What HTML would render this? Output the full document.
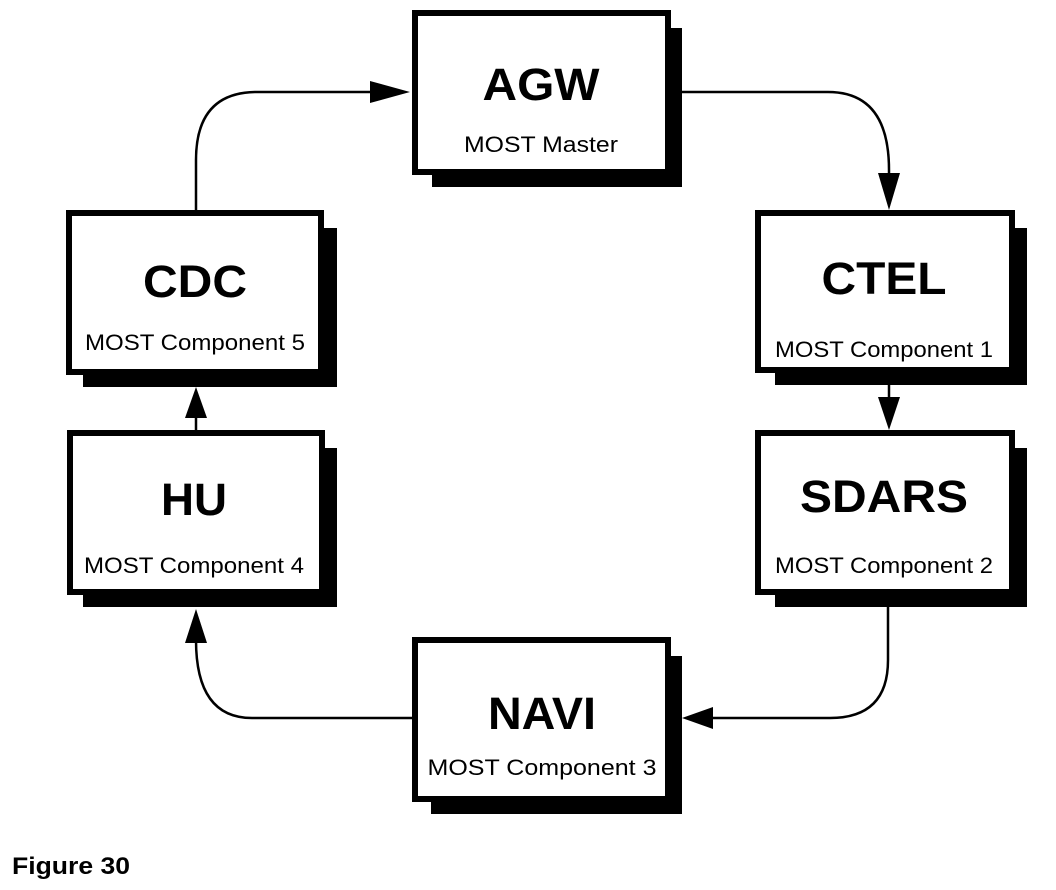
<!DOCTYPE html>
<html><head><meta charset="utf-8"><style>
html,body{margin:0;padding:0;background:#fff;}
svg{display:block;}
text{font-family:"Liberation Sans",Arial,sans-serif;fill:#000;}
.t{font-weight:bold;font-size:45px;}
.s{font-size:22px;}
</style></head><body>
<svg width="1056" height="890" viewBox="0 0 1056 890" xmlns="http://www.w3.org/2000/svg">
<g fill="#000">
<!-- shadows -->
<rect x="432" y="28" width="250" height="159"/>
<rect x="775" y="228" width="252" height="157"/>
<rect x="775" y="448" width="252" height="159"/>
<rect x="83" y="228" width="254" height="159"/>
<rect x="83" y="448" width="254" height="159"/>
<rect x="431" y="656" width="251" height="158"/>
</g>
<g fill="#fff" stroke="#000" stroke-width="6">
<rect x="415" y="13" width="253" height="159"/>
<rect x="758" y="213" width="254" height="157"/>
<rect x="758" y="433" width="254" height="159"/>
<rect x="69" y="213" width="252" height="159"/>
<rect x="70" y="433" width="252" height="159"/>
<rect x="415" y="640" width="253" height="159"/>
</g>
<!-- connectors -->
<g fill="none" stroke="#000" stroke-width="2.5">
<path d="M196 210 V160 Q196 92 257 92 H372"/>
<path d="M682 92 H828 Q889 92 889 170 V174"/>
<path d="M889 385 V397"/>
<path d="M888 607 V660 Q888 718 830 718 H712"/>
<path d="M412 718 H252 Q196 718 196 640"/>
<path d="M196 430 V417"/>
</g>
<g fill="#000">
<polygon points="410,92 370,81 370,103"/>
<polygon points="889,210 878,173 900,173"/>
<polygon points="889,430 878,397 900,397"/>
<polygon points="682,718 713,707 713,729"/>
<polygon points="196,609 185,643 207,643"/>
<polygon points="196,387 185,418 207,418"/>
</g>
<text class="t" x="541" y="100" text-anchor="middle" textLength="117" lengthAdjust="spacingAndGlyphs">AGW</text>
<text class="s" x="541" y="152" text-anchor="middle" textLength="154" lengthAdjust="spacingAndGlyphs">MOST Master</text>
<text class="t" x="884" y="294" text-anchor="middle" textLength="125" lengthAdjust="spacingAndGlyphs">CTEL</text>
<text class="s" x="884" y="357" text-anchor="middle" textLength="218" lengthAdjust="spacingAndGlyphs">MOST Component 1</text>
<text class="t" x="884" y="512" text-anchor="middle" textLength="168" lengthAdjust="spacingAndGlyphs">SDARS</text>
<text class="s" x="884" y="573" text-anchor="middle" textLength="218" lengthAdjust="spacingAndGlyphs">MOST Component 2</text>
<text class="t" x="195" y="297" text-anchor="middle" textLength="104" lengthAdjust="spacingAndGlyphs">CDC</text>
<text class="s" x="195" y="350" text-anchor="middle" textLength="220" lengthAdjust="spacingAndGlyphs">MOST Component 5</text>
<text class="t" x="194" y="515" text-anchor="middle" textLength="66" lengthAdjust="spacingAndGlyphs">HU</text>
<text class="s" x="194" y="573" text-anchor="middle" textLength="220" lengthAdjust="spacingAndGlyphs">MOST Component 4</text>
<text class="t" x="542" y="729" text-anchor="middle" textLength="108" lengthAdjust="spacingAndGlyphs">NAVI</text>
<text class="s" x="542" y="775" text-anchor="middle" textLength="229" lengthAdjust="spacingAndGlyphs">MOST Component 3</text>
<text x="12" y="874" font-weight="bold" font-size="24" textLength="118" lengthAdjust="spacingAndGlyphs">Figure 30</text>
</svg>
</body></html>
